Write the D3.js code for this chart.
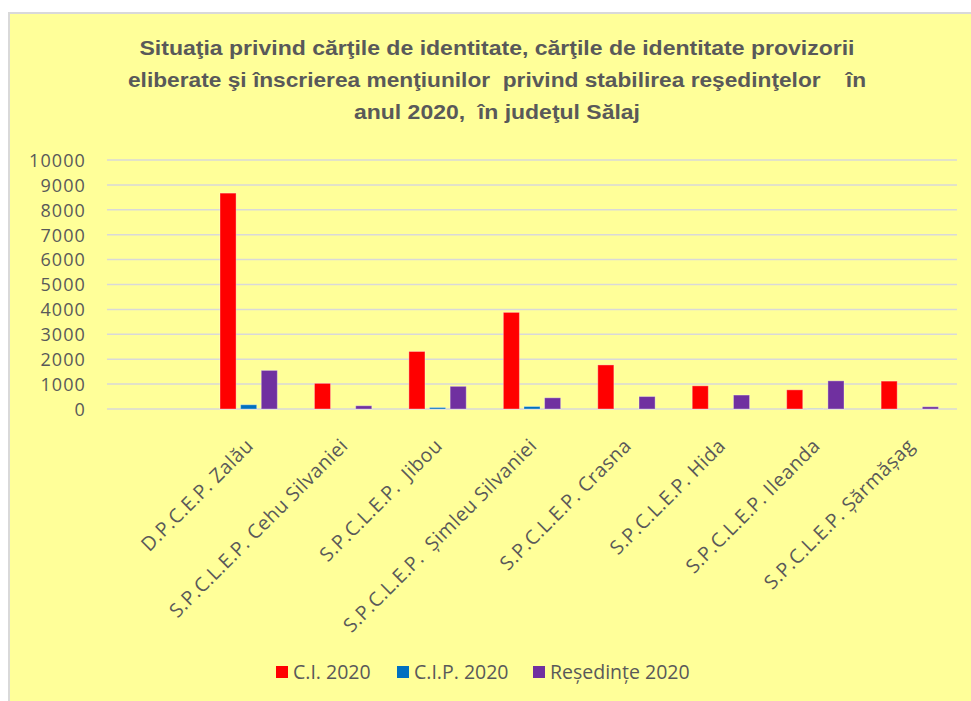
<!DOCTYPE html>
<html lang="ro">
<head>
  <meta charset="UTF-8">
  <title>Situatia cartilor de identitate 2020 - Salaj</title>
  <style>
    * {
      padding: 0;
      margin: 0;
    }
    body {
      background: #fff;
    }
  </style>
</head>
<body>
  <script src="https://d3js.org/d3.v7.min.js"></script>
  <script>
    const outerWidth = 971;
    const outerHeight = 701;

    // first category is empty in the original chart
    const categories = ['', 'D.P.C.E.P. Zalău', 'S.P.C.L.E.P. Cehu Silvaniei', 'S.P.C.L.E.P.  Jibou',
      'S.P.C.L.E.P.  Şimleu Silvaniei', 'S.P.C.L.E.P. Crasna', 'S.P.C.L.E.P. Hida',
      'S.P.C.L.E.P. Ileanda', 'S.P.C.L.E.P. Şărmăşag'];
    const seriesNames = ['C.I. 2020', 'C.I.P. 2020', 'Reşedinţe 2020'];
    const seriesColors = ['#ff0000', '#0070c0', '#7030a0'];
    const ci2020 = [0, 8670, 1030, 2310, 3880, 1770, 930, 770, 1120];
    const cip2020 = [0, 170, 0, 60, 100, 0, 0, 5, 0];
    const resedinte2020 = [0, 1550, 130, 910, 450, 500, 560, 1130, 90];
    const yTicks = [0, 1000, 2000, 3000, 4000, 5000, 6000, 7000, 8000, 9000, 10000];
    const titleLines = [
      'Situaţia privind cărţile de identitate, cărţile de identitate provizorii',
      'eliberate şi înscrierea menţiunilor  privind stabilirea reşedinţelor    în',
      'anul 2020,  în judeţul Sălaj'
    ];

    const series = [ci2020, cip2020, resedinte2020];
    const textColor = '#595959';

    const svg = d3.select('body')
      .append('svg')
      .attr('width', outerWidth)
      .attr('height', outerHeight);

    // chart area
    svg.append('rect')
      .attr('x', 9)
      .attr('y', 13)
      .attr('width', outerWidth)
      .attr('height', outerHeight)
      .attr('fill', '#ffff99')
      .attr('stroke', '#d9d9d9')
      .attr('stroke-width', 2);

    // title
    const titleWidths = [715, 738, 286];
    svg.append('g')
      .selectAll('text')
      .data(titleLines)
      .join('text')
      .attr('x', 497)
      .attr('y', (d, i) => 55 + i * 32)
      .attr('text-anchor', 'middle')
      .attr('font-family', 'Liberation Sans, Arial, sans-serif')
      .attr('font-weight', 'bold')
      .attr('font-size', 20)
      .attr('fill', textColor)
      .attr('textLength', (d, i) => titleWidths[i])
      .attr('lengthAdjust', 'spacingAndGlyphs')
      .style('white-space', 'pre')
      .text(d => d);

    const plot = { left: 107, right: 957, top: 160, bottom: 409 };

    const x = d3.scaleBand()
      .domain(d3.range(categories.length))
      .range([plot.left, plot.right]);

    const y = d3.scaleLinear()
      .domain([0, 10000])
      .range([plot.bottom, plot.top]);

    // grid
    svg.append('g')
      .selectAll('line')
      .data(yTicks)
      .join('line')
      .attr('x1', plot.left)
      .attr('x2', plot.right)
      .attr('y1', d => y(d))
      .attr('y2', d => y(d))
      .attr('stroke', '#d9d9d9')
      .attr('stroke-width', 1.5);

    // y axis labels
    const yAxis = svg.append('g')
      .attr('transform', `translate(${plot.left - 21},0)`)
      .call(d3.axisLeft(y).tickValues(yTicks).tickFormat(d3.format('d')).tickSize(0).tickPadding(0));
    yAxis.select('.domain').remove();
    yAxis.selectAll('text')
      .attr('font-family', 'Open Sans, sans-serif')
      .attr('font-size', 18)
      .attr('letter-spacing', 1.1)
      .attr('fill', textColor)
      .attr('dy', '0.35em');

    // bars
    const inner = d3.scaleBand()
      .domain(d3.range(series.length))
      .range([0, x.bandwidth()])
      .paddingInner(0.22)
      .paddingOuter(0.9);

    series.forEach((values, s) => {
      svg.append('g')
        .selectAll('rect')
        .data(values)
        .join('rect')
        .attr('x', (d, i) => x(i) + inner(s))
        .attr('y', d => y(d))
        .attr('width', inner.bandwidth())
        .attr('height', d => y(0) - y(d))
        .attr('fill', seriesColors[s])
        .attr('stroke', '#ffffff')
        .attr('stroke-opacity', 0.35)
        .attr('stroke-width', 1);
    });

    // x labels
    svg.append('g')
      .selectAll('text')
      .data(categories)
      .join('text')
      .attr('transform', (d, i) => `translate(${x(i) + x.bandwidth() / 2 + 6},${plot.bottom + 38}) rotate(-45)`)
      .attr('text-anchor', 'end')
      .attr('font-family', 'Open Sans, sans-serif')
      .attr('font-size', 19.5)
      .attr('letter-spacing', 0.5)
      .attr('fill', textColor)
      .style('white-space', 'pre')
      .text(d => d);

    // legend
    const legendX = [276, 397, 533];
    const legend = svg.append('g')
      .selectAll('g')
      .data(seriesNames)
      .join('g')
      .attr('transform', (d, i) => `translate(${legendX[i]},666)`);
    legend.append('rect')
      .attr('width', 12)
      .attr('height', 12)
      .attr('fill', (d, i) => seriesColors[i]);
    legend.append('text')
      .attr('x', 17)
      .attr('y', 6)
      .attr('dy', '0.36em')
      .attr('font-family', 'Open Sans, sans-serif')
      .attr('font-size', 19.5)
      .attr('fill', textColor)
      .text(d => d);
  </script>
</body>
</html>
